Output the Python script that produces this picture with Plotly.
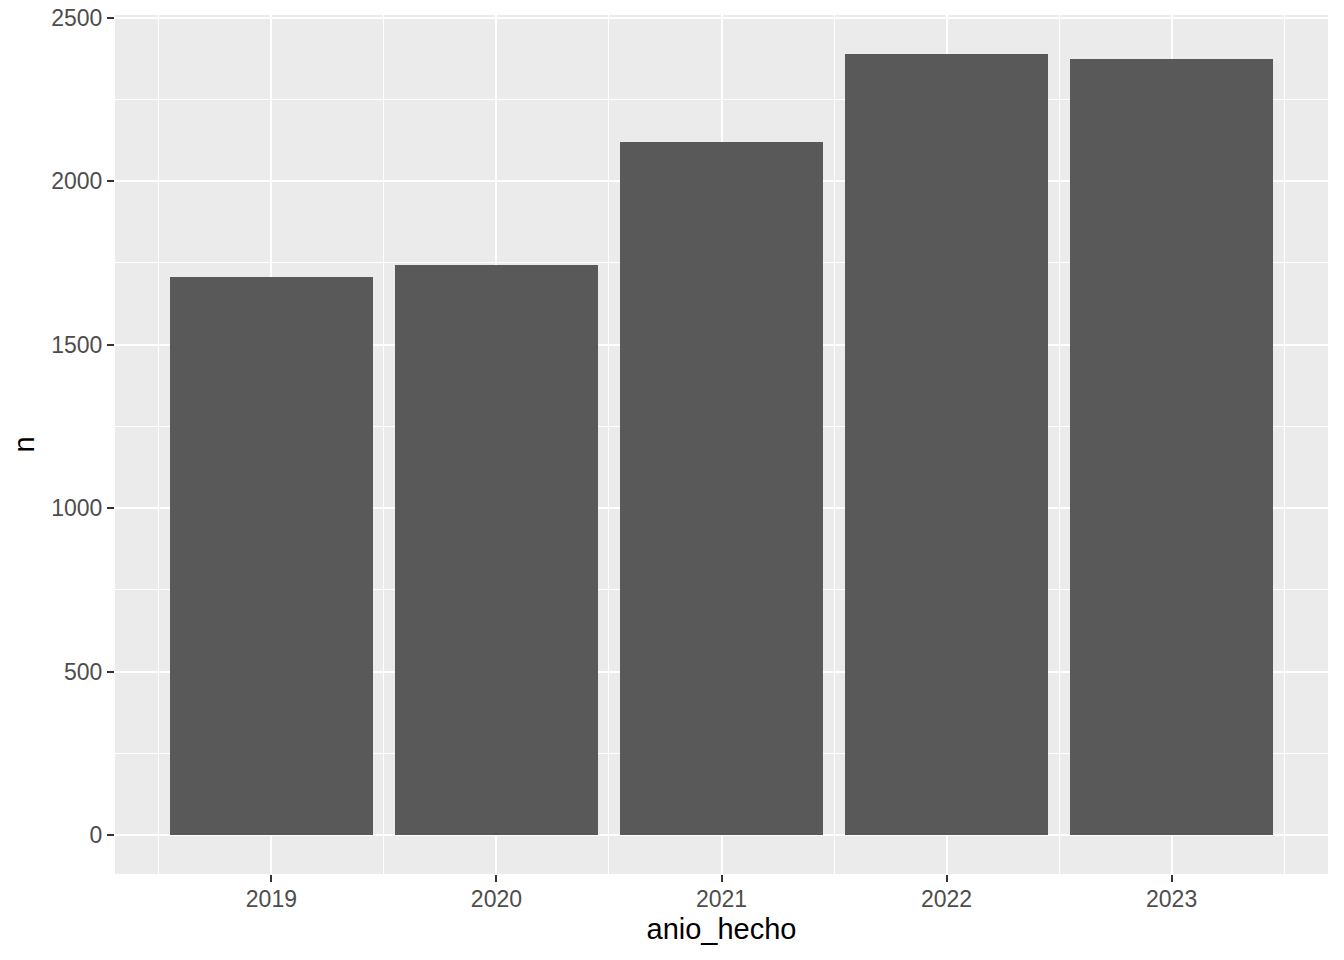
import plotly.graph_objects as go

# counts per year
anio_hecho = [2019, 2020, 2021, 2022, 2023]
n = [1706, 1745, 2119, 2389, 2373]

# ggplot-style continuous scales: bar width 0.9, 5% expansion
x_lo, x_hi = min(anio_hecho) - 0.45, max(anio_hecho) + 0.45
x_pad = (x_hi - x_lo) * 0.05
y_max = max(n)
y_pad = y_max * 0.05

fig = go.Figure()
fig.add_trace(go.Bar(x=anio_hecho, y=n, width=0.9,
                     marker=dict(color='#595959', line=dict(width=0)),
                     showlegend=False))

font = "Liberation Sans, Arial, sans-serif"
# page body adds an 8px offset, so the figure is a bit smaller than the window
fig.update_layout(
    width=1336, height=952,
    paper_bgcolor='white', plot_bgcolor='#EBEBEB',
    margin=dict(l=107, r=16, t=7, b=86),
    font=dict(family=font),
    bargap=0,
    xaxis=dict(
        range=[x_lo - x_pad, x_hi + x_pad],
        tickvals=anio_hecho, ticktext=[str(a) for a in anio_hecho],
        automargin=False,
        showgrid=True, gridcolor='white', gridwidth=2,
        minor=dict(dtick=0.5, tick0=2018.5, showgrid=True, gridcolor='white', gridwidth=1),
        ticks='outside', ticklen=7, tickwidth=2, tickcolor='#333333',
        ticklabelstandoff=-3,
        tickfont=dict(size=23, color='#4D4D4D', family=font),
        zeroline=False, showline=False,
        title=dict(text='anio_hecho', font=dict(size=29, color='black', family=font), standoff=8),
    ),
    yaxis=dict(
        range=[-y_pad, y_max + y_pad],
        tickvals=[0, 500, 1000, 1500, 2000, 2500],
        ticklabeloverflow='allow', automargin=False,
        showgrid=True, gridcolor='white', gridwidth=2,
        minor=dict(dtick=250, tick0=0, showgrid=True, gridcolor='white', gridwidth=1),
        ticks='outside', ticklen=7, tickwidth=2, tickcolor='#333333',
        tickfont=dict(size=23, color='#4D4D4D', family=font),
        zeroline=False, showline=False,
        title=dict(text='n', font=dict(size=29, color='black', family=font), standoff=10),
    ),
)

fig.write_html("out.html")
